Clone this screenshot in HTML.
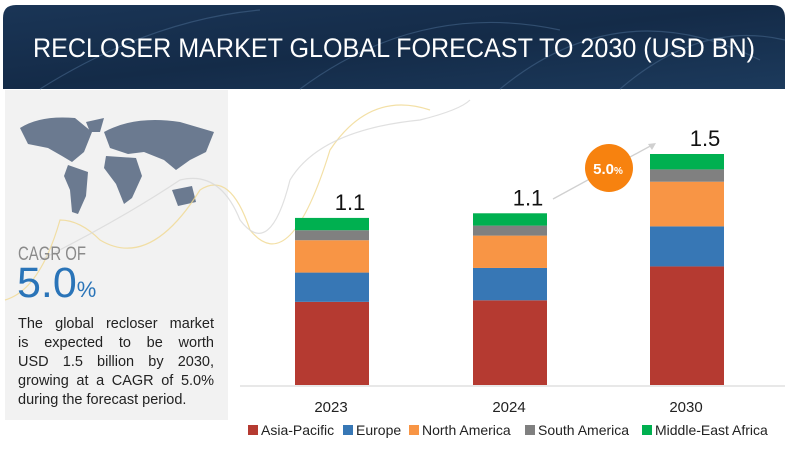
<!DOCTYPE html>
<html><head><meta charset="utf-8"><style>
body{margin:0;background:#fff;width:792px;height:462px;overflow:hidden;font-family:"Liberation Sans",sans-serif;position:relative}
#desc{position:absolute;left:18px;top:315px;width:196px;font-size:14.5px;line-height:19px;color:#222}
#desc span{display:block;text-align:justify;text-align-last:justify;white-space:nowrap}
#desc span.last{text-align-last:left}
</style></head><body>
<svg id="chart" width="792" height="462" viewBox="0 0 792 462" xmlns="http://www.w3.org/2000/svg" style="position:absolute;left:0;top:0">
<defs>
<linearGradient id="hdr" x1="0" y1="0" x2="1" y2="1">
<stop offset="0" stop-color="#1a3556"/><stop offset="0.5" stop-color="#142b48"/><stop offset="1" stop-color="#1c3a5c"/>
</linearGradient>
</defs>
<rect x="0" y="0" width="792" height="462" fill="#fff"/>
<g>
<path d="M3 89 V18 Q3 5 16 5 H772 Q785 5 785 18 V89 Z" fill="url(#hdr)"/>
<path d="M40 89 Q150 20 260 10 M300 89 Q420 0 560 30 M500 89 Q620 -10 760 60 M620 89 Q700 20 785 40" stroke="#3d5d80" stroke-width="1.2" fill="none" opacity="0.7"/>
<text x="394" y="57" text-anchor="middle" fill="#fff" font-size="27" textLength="722" lengthAdjust="spacingAndGlyphs">RECLOSER MARKET GLOBAL FORECAST TO 2030 (USD BN)</text>
</g>
<rect x="5" y="90" width="223" height="330" fill="#f2f2f2"/>
<g fill="#6b7a90">
<path d="M20 128 Q40 115 75 118 L92 132 L84 152 L72 162 L62 156 L48 148 L28 144 Z"/>
<path d="M68 165 L88 172 L86 196 L78 214 L72 212 L70 190 L64 176 Z"/>
<path d="M86 122 L104 118 L100 132 L90 132 Z"/>
<path d="M104 132 Q135 115 180 122 L214 132 L206 152 L190 160 L176 170 L164 160 L144 152 L128 154 L110 148 Z"/>
<path d="M106 156 L136 158 L142 176 L132 198 L124 204 L116 184 L104 168 Z"/>
<path d="M172 190 L192 186 L196 202 L178 206 Z"/>
</g>
<path d="M5 300 Q40 290 60 220 Q80 220 100 240 Q150 270 200 190 Q230 170 250 230 Q290 280 330 150 Q370 90 430 110" stroke="#f0d890" stroke-width="1.2" fill="none" opacity="0.8"/>
<path d="M40 260 Q120 220 180 180 Q220 170 240 220 Q270 260 290 180 Q320 130 420 120 Q460 110 470 100" stroke="#d8d8d8" stroke-width="1.2" fill="none" opacity="0.8"/>
<text x="18" y="260" font-size="19" fill="#8a8a8a" textLength="68" lengthAdjust="spacingAndGlyphs">CAGR OF</text>
<text x="17" y="297" font-size="43" fill="#2a74b8">5.0<tspan font-size="22">%</tspan></text>
<line x1="240" y1="386" x2="785" y2="386" stroke="#e0e0e0" stroke-width="1.5"/>
<g id="bars"></g>
<line x1="553" y1="199" x2="654" y2="144" stroke="#d0d0d0" stroke-width="1.3"/>
<path d="M656 143 L648 144 L652 150 Z" fill="#d0d0d0"/>
<circle cx="609" cy="168" r="24" fill="#f7820f"/>
<text x="608" y="174" text-anchor="middle" fill="#fff" font-size="15" font-weight="bold">5.0<tspan font-size="10">%</tspan></text>
<g id="legend" font-size="14" fill="#222"></g>
</svg>
<div id="desc"><span>The global recloser market</span><span>is expected to be worth</span><span>USD 1.5 billion by 2030,</span><span>growing at a CAGR of 5.0%</span><span class="last">during the forecast period.</span></div>
<script>
const categories=["2023","2024","2030"];
const totals=["1.1","1.1","1.5"];
const seriesNames=["Asia-Pacific","Europe","North America","South America","Middle-East Africa"];
const asiaPacific=[0.54,0.55,0.77];
const europe=[0.19,0.21,0.26];
const northAmerica=[0.21,0.21,0.29];
const southAmerica=[0.065,0.065,0.08];
const middleEastAfrica=[0.08,0.08,0.10];
const colors=["#b53a31","#3777b5","#f89545","#808080","#00b050"];
const series=[asiaPacific,europe,northAmerica,southAmerica,middleEastAfrica];
const NS="http://www.w3.org/2000/svg";
const base=385, pxPerUnit=154;
const centers=[332,510,687], bw=74;
function yScale(v){return base-v*pxPerUnit;}
function xScale(i){return centers[i];}
const g=document.getElementById('bars');
categories.forEach((c,i)=>{
  let acc=0;
  series.forEach((s,k)=>{
    const r=document.createElementNS(NS,'rect');
    const y0=yScale(acc), y1=yScale(acc+s[i]);
    r.setAttribute('x',xScale(i)-bw/2);r.setAttribute('y',y1);
    r.setAttribute('width',bw);r.setAttribute('height',y0-y1);
    r.setAttribute('fill',colors[k]);
    
    
    g.appendChild(r);
    acc+=s[i];
  });
  const t=document.createElementNS(NS,'text');
  t.setAttribute('x',xScale(i)+18);t.setAttribute('y',yScale(acc)-8);
  t.setAttribute('text-anchor','middle');t.setAttribute('font-size','22');t.setAttribute('fill','#111');
  t.textContent=totals[i];
  
  
  g.appendChild(t);
  const xl=document.createElementNS(NS,'text');
  xl.setAttribute('x',xScale(i)-1);xl.setAttribute('y',412);
  xl.setAttribute('text-anchor','middle');xl.setAttribute('font-size','15');xl.setAttribute('fill','#222');
  xl.textContent=c;
  
  
  g.appendChild(xl);
});
const lg=document.getElementById('legend');
const lx=[248,343,409,525,642];
seriesNames.forEach((n,k)=>{
  const r=document.createElementNS(NS,'rect');
  r.setAttribute('x',lx[k]);r.setAttribute('y',425);r.setAttribute('width',10);r.setAttribute('height',10);
  r.setAttribute('fill',colors[k]);
  
  
  lg.appendChild(r);
  const t=document.createElementNS(NS,'text');
  t.setAttribute('x',lx[k]+13);t.setAttribute('y',435);
  t.textContent=n;
  
  
  lg.appendChild(t);
});
</script>
</body></html>
